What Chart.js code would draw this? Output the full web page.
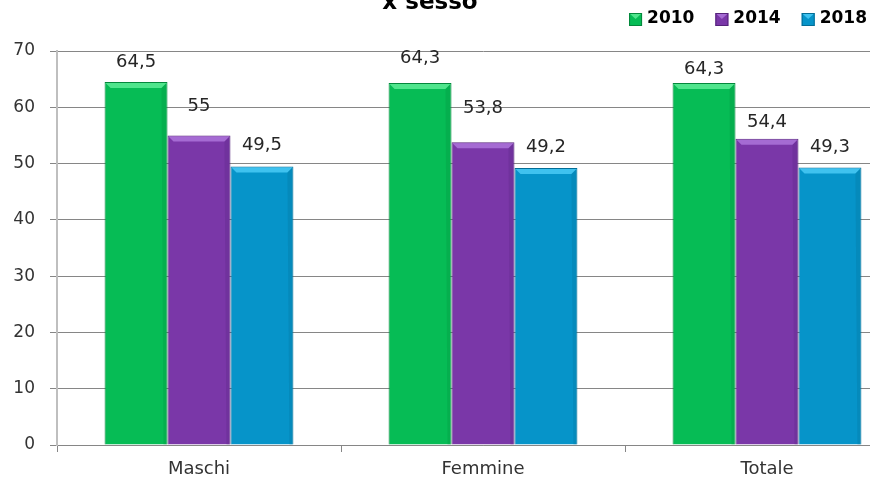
<!DOCTYPE html>
<html>
<head>
<meta charset="utf-8">
<script src="https://cdn.jsdelivr.net/npm/chart.js@4/dist/chart.umd.min.js"></script>
<style>
  html, body { margin: 0; padding: 0; background: #fff; overflow: hidden; }
  #wrap { position: relative; width: 915px; height: 480px; }
</style>
</head>
<body>
<div id="wrap"><canvas id="chart1"></canvas></div>
<script>
// data
var categories = ['Maschi', 'Femmine', 'Totale'];
var years = ['2010', '2014', '2018'];
var values2010 = [64.5, 64.3, 64.3];
var values2014 = [55, 53.8, 54.4];
var values2018 = [49.5, 49.2, 49.3];
var yTicks = [0, 10, 20, 30, 40, 50, 60, 70];

// styles
var fills = ['#06BC55', '#7A37A8', '#0694C9'];
var edges = ['#04873c', '#55237a', '#046d95'];
var bevels = ['#4fe58c', '#a56bd3', '#3fc2ef'];
// how far each value label sits above its bar (px), like the hand placed labels
var labelLift = [[20, 25, 14], [29, 34, 16], [21, 21, 20]];
var font = '"DejaVu Sans", sans-serif';

// bevel on top of every bar
var bevelPlugin = {
  id: 'bevel',
  afterDatasetsDraw: function (chart) {
    var ctx = chart.ctx;
    chart.data.datasets.forEach(function (ds, i) {
      chart.getDatasetMeta(i).data.forEach(function (bar) {
        var p = bar.getProps(['x', 'y', 'width', 'base'], true);
        var l = p.x - p.width / 2, r = p.x + p.width / 2, t = p.y, b = p.base, d = 6;
        ctx.save();
        ctx.fillStyle = bevels[i];
        ctx.beginPath();
        ctx.moveTo(l + 1, t + 1); ctx.lineTo(r - 1, t + 1);
        ctx.lineTo(r - d, t + d); ctx.lineTo(l + d, t + d);
        ctx.closePath(); ctx.fill();
        ctx.globalAlpha = 0.25;
        ctx.fillStyle = edges[i];
        ctx.beginPath();
        ctx.moveTo(r - 1, t + 1); ctx.lineTo(r - 1, b); ctx.lineTo(r - 4, b); ctx.lineTo(r - d, t + d);
        ctx.closePath(); ctx.fill();
        ctx.restore();
      });
    });
  }
};

// value labels, title and legend
var textPlugin = {
  id: 'texts',
  afterDraw: function (chart) {
    var ctx = chart.ctx;
    ctx.save();
    ctx.font = '18px ' + font;
    ctx.fillStyle = '#262626';
    ctx.textAlign = 'center';
    ctx.textBaseline = 'middle';
    chart.data.datasets.forEach(function (ds, i) {
      chart.getDatasetMeta(i).data.forEach(function (bar, j) {
        var txt = String(ds.data[j]).replace('.', ',');
        ctx.fillText(txt, bar.x, bar.y - labelLift[i][j]);
      });
    });

    // title, cut at the top like the original
    ctx.font = 'bold 23px ' + font;
    ctx.fillStyle = '#000';
    ctx.textBaseline = 'alphabetic';
    ctx.fillText('x sesso', 430, 9);

    // legend, right aligned
    ctx.font = 'bold 17px ' + font;
    ctx.textAlign = 'left';
    ctx.textBaseline = 'middle';
    var x = 867;
    for (var k = years.length - 1; k >= 0; k--) {
      var w = ctx.measureText(years[k]).width;
      x -= w;
      ctx.fillStyle = '#000';
      ctx.fillText(years[k], x, 19);
      x -= 5 + 13;
      ctx.fillStyle = fills[k];
      ctx.fillRect(x, 13, 13, 13);
      ctx.fillStyle = bevels[k];
      ctx.beginPath();
      ctx.moveTo(x, 13); ctx.lineTo(x + 13, 13); ctx.lineTo(x + 6.5, 19);
      ctx.closePath(); ctx.fill();
      ctx.strokeStyle = edges[k];
      ctx.lineWidth = 1;
      ctx.strokeRect(x + 0.5, 13.5, 12, 12);
      x -= 21;
    }
    ctx.restore();
  }
};

var graph = document.getElementById('chart1');

var myChart = new Chart(graph, {
  type: 'bar',
  data: {
    labels: categories,
    datasets: [values2010, values2014, values2018].map(function (vals, i) {
      return {
        label: years[i],
        data: vals,
        backgroundColor: fills[i],
        borderColor: edges[i],
        borderWidth: 1,
        barPercentage: 1,
        categoryPercentage: 0.665
      };
    })
  },
  options: {
    responsive: true,
    maintainAspectRatio: false,
    animation: false,
    layout: { padding: { top: 51, right: 6, left: 0, bottom: 0 } },
    plugins: {
      legend: { display: false },
      title: { display: false },
      tooltip: { enabled: false }
    },
    scales: {
      x: {
        grid: { drawOnChartArea: false, drawTicks: true, tickLength: 7, color: '#868686', offset: true },
        border: { color: '#868686', width: 1 },
        ticks: { color: '#333', font: { family: font, size: 18 }, padding: 7 },
        afterFit: function (s) { s.height = 35; }
      },
      y: {
        min: 0,
        max: 70,
        afterBuildTicks: function (s) { s.ticks = yTicks.map(function (v) { return { value: v }; }); },
        grid: { color: '#868686', tickLength: 7, lineWidth: 1 },
        border: { color: '#BFBFBF', width: 2 },
        ticks: { color: '#333', font: { family: font, size: 17 }, padding: 15 },
        afterFit: function (s) { s.width = 57; }
      }
    }
  },
  plugins: [bevelPlugin, textPlugin]
}); // ends the chart
</script>
</body>
</html>
